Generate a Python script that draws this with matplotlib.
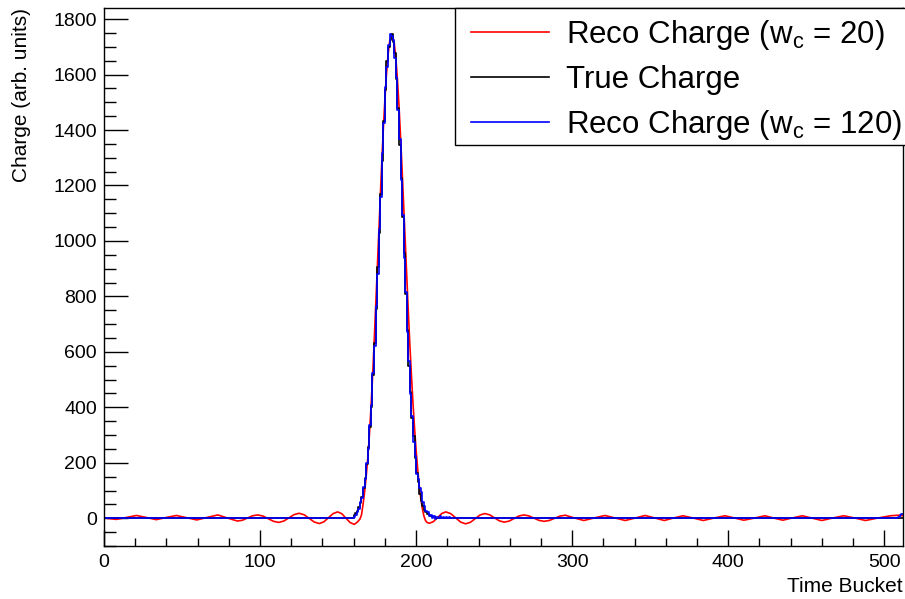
import numpy as np
import matplotlib
matplotlib.use('Agg')
import matplotlib.pyplot as plt
from matplotlib.patches import Rectangle
from matplotlib.ticker import MultipleLocator

plt.rcParams['font.family'] = ['Liberation Sans', 'DejaVu Sans']
plt.rcParams['mathtext.fontset'] = 'custom'
plt.rcParams['mathtext.rm'] = 'Liberation Sans'
plt.rcParams['mathtext.default'] = 'regular'

n_buckets = 512

# true charge, non-zero bins only (first bin = 160), zero elsewhere
true_start = 160
true_peak = [12, 18, 27, 39, 55, 78, 108, 146, 195, 256,
             329, 402, 517, 631, 756, 905, 1030, 1171, 1290, 1434,
             1545, 1648, 1700, 1725, 1748, 1719, 1678, 1584, 1481, 1345,
             1226, 1087, 958, 809, 680, 548, 455, 362, 296, 218,
             165, 131, 89, 64, 45, 31, 21, 15, 10, 7,
             5, 3, 2]

# reco charge w_c = 120 (histogram), baseline elsewhere
blue_start = 160
blue_peak = [4, 10, 22, 35, 58, 74, 112, 140, 200, 250,
             336, 410, 525, 622, 765, 880, 1042, 1160, 1318, 1425,
             1556, 1628, 1708, 1745, 1738, 1726, 1658, 1590, 1472, 1366,
             1218, 1095, 938, 816, 672, 568, 447, 370, 276, 224,
             158, 140, 110, 96, 58, 44, 26, 22, 8, 12,
             0, 7, -3, 6, 1, 7, 0, 5, 2, 4,
             1, 3, 2]
blue_base = 2
blue_end_start = 509
blue_end = [5, 10, 16]

# reco charge w_c = 20 (smooth curve with ringing)
red_x = [0, 8, 14.4, 20.8, 27, 33.5, 40, 46.4, 53, 59.5, 66, 73, 79, 85.5,
         88.75, 92, 95.25, 98.5, 101.9, 105.25, 108.6, 112, 115.25, 118.5,
         121.75, 125, 128.25, 131.5, 134.75, 138, 140.9, 143.85, 146.8, 149.7,
         152.4, 155, 157.7, 160.4, 162.5, 164,
         165, 166, 167, 168, 169, 170, 171, 172, 173, 174, 175, 176, 177, 178,
         179, 180, 181, 182, 183, 184, 185, 186, 187, 188, 189, 190, 191, 192,
         193, 194, 195, 196, 197, 198, 199, 200, 201, 202, 203, 204, 205, 206, 207,
         208.5, 211.1, 213.75, 216.4, 219, 222.2, 225.35, 228.5, 231.7, 234.8,
         237.85, 240.9, 244, 247.1, 250.25, 253.4, 256.5, 259.6, 262.75, 265.9,
         269, 272.25, 275.5, 278.75, 282, 285.4, 288.8, 292.2, 295.6,
         301.5, 307.5, 314, 321, 327.5, 334, 340.5, 346.7, 353, 359, 365, 371,
         377.5, 384, 391, 398, 404, 410, 417, 423.5, 429, 435, 441, 447.5,
         453.5, 460, 467, 474, 481, 488, 496, 504, 509, 512]
red_y = [1, -4, 3, 10, 3, -5, 3, 10, 2, -6, 3, 12, 1, -10,
         -7, 1, 9, 12, 8, -1.5, -11, -15, -10, 1.5,
         13, 18, 12.6, -0.5, -13.6, -19, -12.8, 2, 16.8, 23,
         16.4, 0.5, -15.4, -22, -13, -3,
         12, 50, 95, 150, 215, 295, 390, 500, 620, 750, 885, 1020, 1155, 1285,
         1405, 1510, 1600, 1670, 1718, 1742, 1740, 1712, 1660, 1585, 1490, 1380, 1260, 1130,
         1000, 870, 745, 625, 515, 415, 325, 245, 178, 120, 72, 35, 8, -8, -15,
         -18, -12, 2.5, 17, 23, 16.7, 1.5, -13.7, -20, -14.6,
         -1.5, 11.6, 17, 12.5, 1.5, -9.5, -14, -10.2, -1, 8.2,
         12, 8.6, 0.5, -7.6, -11, -7.8, 0, 7.8, 11,
         1, -8, 1, 10, 1, -8, 1, 10, 1, -8, 1, 9,
         1, -8, 1, 9, 1, -7, 1, 9, 1, -7, 1, 9,
         1, -8, 1, 9, 1, -8, 1, 9, 11, 9]

labels = ['Reco Charge (w$_{c}$ = 20)', 'True Charge', 'Reco Charge (w$_{c}$ = 120)']

# step arrays
true_bins = np.arange(true_start, true_start + len(true_peak))
true_x = np.concatenate([[0], true_bins, [true_bins[-1] + 1, n_buckets]])
true_y = np.concatenate([[0], true_peak, [0, 0]])

blue_bins = np.arange(blue_start, blue_start + len(blue_peak))
end_bins = np.arange(blue_end_start, blue_end_start + len(blue_end))
blue_x = np.concatenate([[0], blue_bins, [blue_bins[-1] + 1], end_bins, [n_buckets]])
blue_y = np.concatenate([[blue_base], blue_peak, [blue_base], blue_end, [blue_end[-1]]])

fig = plt.figure(figsize=(9.05, 5.99), dpi=100)
W, H = 905, 599
ax = fig.add_axes([104 / W, 1 - 546 / H, (903 - 104) / W, (546 - 8) / H])

ax.plot(red_x, red_y, color='#ff0000', lw=1.2, label=labels[0])
ax.plot(true_x, true_y, color='black', lw=1.2, drawstyle='steps-post', label=labels[1])
ax.plot(blue_x, blue_y, color='#0000ff', lw=1.2, drawstyle='steps-post', label=labels[2])

ax.set_xlim(0, n_buckets)
ax.set_ylim(-100, 1840)

ax.xaxis.set_major_locator(MultipleLocator(100))
ax.xaxis.set_minor_locator(MultipleLocator(20))
ax.yaxis.set_major_locator(MultipleLocator(200))
ax.yaxis.set_minor_locator(MultipleLocator(50))
ax.tick_params(which='both', direction='in', top=False, right=False, labelsize=14, width=1)
ax.tick_params(axis='x', which='major', length=11.5, pad=6)
ax.tick_params(axis='x', which='minor', length=5.8)
ax.tick_params(axis='y', which='major', length=17, pad=5)
ax.tick_params(axis='y', which='minor', length=8.5)
for s in ax.spines.values():
    s.set_linewidth(1)

ax.set_xlabel('Time Bucket', fontsize=15, loc='right', labelpad=4)
ax.set_ylabel('Charge (arb. units)', fontsize=15, loc='top', labelpad=16)

# legend box (ROOT style, runs off the right edge)
box = Rectangle((455 / W, 1 - 145 / H), (W + 10 - 455) / W, (145 - 8) / H,
                transform=fig.transFigure, facecolor='white', edgecolor='black',
                lw=1.0, zorder=2)
fig.add_artist(box)

handles, _ = ax.get_legend_handles_labels()
leg = fig.legend(handles, labels, loc='upper left', bbox_to_anchor=(471 / W, 1 - 18 / H),
                 fontsize=22.5, frameon=False, borderaxespad=0, borderpad=0,
                 handlelength=2.5, handletextpad=0.54, labelspacing=0.42)
leg.set_zorder(3)

fig.savefig('out.png', dpi=100)
